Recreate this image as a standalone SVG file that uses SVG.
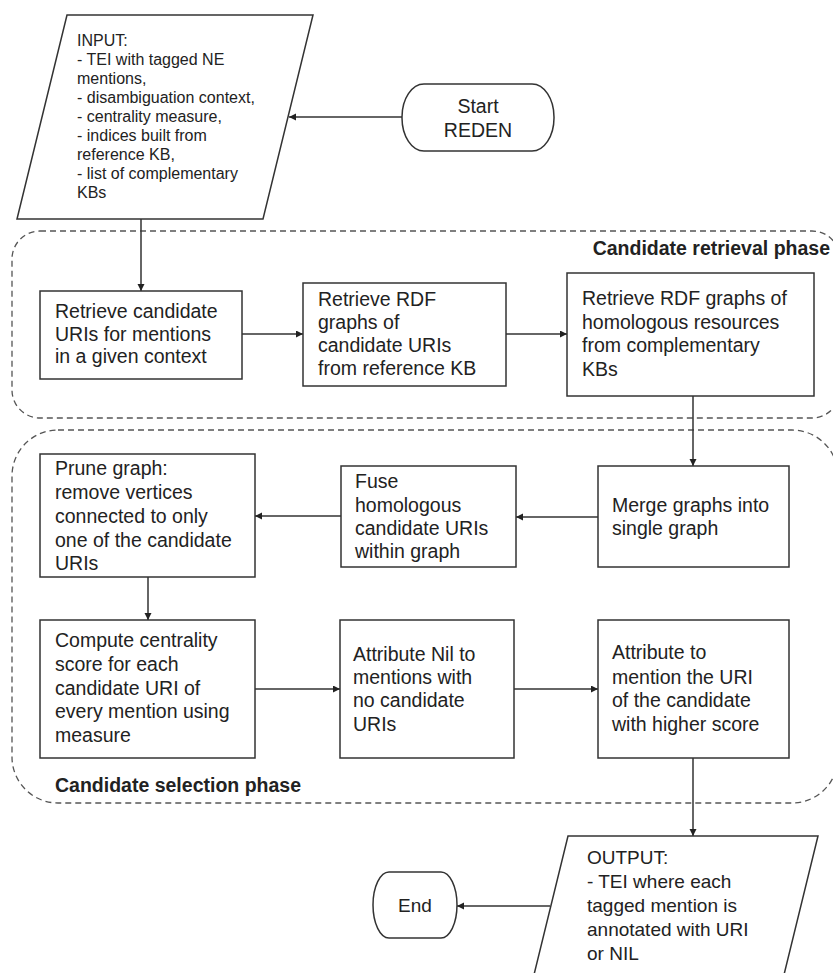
<svg xmlns="http://www.w3.org/2000/svg" width="833" height="973" viewBox="0 0 833 973">
<style>
.box{fill:#fff;stroke:#333;stroke-width:1.5}
.grp{fill:none;stroke:#555;stroke-width:1.3;stroke-dasharray:6 4}
.t{font-family:"Liberation Sans",Arial,sans-serif;font-size:19.5px;fill:#222}
.ts{font-family:"Liberation Sans",Arial,sans-serif;font-size:16px;fill:#222}
.tb{font-family:"Liberation Sans",Arial,sans-serif;font-size:19.5px;font-weight:bold;fill:#222}
.c{text-anchor:middle}
.e{fill:none;stroke:#333;stroke-width:1.5;marker-end:url(#ah)}
</style>
<defs>
<marker id="ah" markerWidth="8" markerHeight="8" refX="7" refY="3.5" orient="auto" markerUnits="userSpaceOnUse">
<path d="M0,0 L7,3.5 L0,7 Z" fill="#222"/>
</marker>
</defs>

<g id="phases">
<rect class="grp" x="12" y="231" width="828" height="187" rx="28" ry="28"/>
<text class="tb" x="830" y="255" text-anchor="end">Candidate retrieval phase</text>
<rect class="grp" x="12" y="430" width="826" height="373" rx="46" ry="46"/>
<text class="tb" x="55" y="792">Candidate selection phase</text>
</g>

<g id="connectors">
<line class="e" x1="402" y1="117" x2="289" y2="117"/>
<line class="e" x1="141" y1="219" x2="141" y2="291"/>
<line class="e" x1="242" y1="334" x2="303" y2="334"/>
<line class="e" x1="506" y1="334" x2="567" y2="334"/>
<line class="e" x1="693" y1="396" x2="693" y2="466"/>
<line class="e" x1="598" y1="517" x2="516" y2="517"/>
<line class="e" x1="341" y1="516" x2="255" y2="516"/>
<line class="e" x1="148" y1="577" x2="148" y2="620"/>
<line class="e" x1="255" y1="689" x2="340" y2="689"/>
<line class="e" x1="514" y1="689" x2="598" y2="689"/>
<line class="e" x1="693" y1="758" x2="693" y2="836"/>
<line class="e" x1="550" y1="906" x2="457" y2="906"/>
</g>

<g id="input">
<polygon class="box" points="67,15 313,15 263,219 17,219"/>
<text class="ts" x="77" y="46">INPUT:</text>
<text class="ts" x="77" y="65">- TEI with tagged NE</text>
<text class="ts" x="77" y="84">mentions,</text>
<text class="ts" x="77" y="103">- disambiguation context,</text>
<text class="ts" x="77" y="122">- centrality measure,</text>
<text class="ts" x="77" y="141">- indices built from</text>
<text class="ts" x="77" y="160">reference KB,</text>
<text class="ts" x="77" y="179">- list of complementary</text>
<text class="ts" x="77" y="198">KBs</text>
</g>

<g id="start">
<rect class="box" x="402" y="84" width="152" height="67" rx="22" ry="33"/>
<text class="t c" x="478" y="113">Start</text>
<text class="t c" x="478" y="137">REDEN</text>
</g>

<g id="retrieve-candidates">
<rect class="box" x="40" y="291" width="202" height="88"/>
<text class="t" x="55" y="318">Retrieve candidate</text>
<text class="t" x="55" y="341">URIs for mentions</text>
<text class="t" x="55" y="363">in a given context</text>
</g>

<g id="retrieve-rdf">
<rect class="box" x="303" y="283" width="203" height="103"/>
<text class="t" x="318" y="306">Retrieve RDF</text>
<text class="t" x="318" y="329">graphs of</text>
<text class="t" x="318" y="352">candidate URIs</text>
<text class="t" x="318" y="375">from reference KB</text>
</g>

<g id="retrieve-homologous">
<rect class="box" x="567" y="273" width="247" height="123"/>
<text class="t" x="582" y="305">Retrieve RDF graphs of</text>
<text class="t" x="582" y="329">homologous resources</text>
<text class="t" x="582" y="352">from complementary</text>
<text class="t" x="582" y="376">KBs</text>
</g>

<g id="merge">
<rect class="box" x="598" y="466" width="191" height="101"/>
<text class="t" x="612" y="512">Merge graphs into</text>
<text class="t" x="612" y="535">single graph</text>
</g>

<g id="fuse">
<rect class="box" x="341" y="466" width="175" height="101"/>
<text class="t" x="355" y="488">Fuse</text>
<text class="t" x="355" y="512">homologous</text>
<text class="t" x="355" y="535">candidate URIs</text>
<text class="t" x="355" y="558">within graph</text>
</g>

<g id="prune">
<rect class="box" x="40" y="454" width="215" height="123"/>
<text class="t" x="55" y="475">Prune graph:</text>
<text class="t" x="55" y="499">remove vertices</text>
<text class="t" x="55" y="523">connected to only</text>
<text class="t" x="55" y="547">one of the candidate</text>
<text class="t" x="55" y="570">URIs</text>
</g>

<g id="compute">
<rect class="box" x="40" y="620" width="215" height="138"/>
<text class="t" x="55" y="647">Compute centrality</text>
<text class="t" x="55" y="671">score for each</text>
<text class="t" x="55" y="695">candidate URI of</text>
<text class="t" x="55" y="718">every mention using</text>
<text class="t" x="55" y="742">measure</text>
</g>

<g id="attribute-nil">
<rect class="box" x="340" y="620" width="174" height="138"/>
<text class="t" x="353" y="661">Attribute Nil to</text>
<text class="t" x="353" y="684">mentions with</text>
<text class="t" x="353" y="707">no candidate</text>
<text class="t" x="353" y="731">URIs</text>
</g>

<g id="attribute-uri">
<rect class="box" x="598" y="620" width="191" height="138"/>
<text class="t" x="612" y="659">Attribute to</text>
<text class="t" x="612" y="684">mention the URI</text>
<text class="t" x="612" y="707">of the candidate</text>
<text class="t" x="612" y="731">with higher score</text>
</g>

<g id="output">
<polygon class="box" points="568,836 818,836 768,1040 518,1040"/>
<text class="t" x="587" y="864" style="font-size:19px">OUTPUT:</text>
<text class="t" x="587" y="888" style="font-size:19px">- TEI where each</text>
<text class="t" x="587" y="912" style="font-size:19px">tagged mention is</text>
<text class="t" x="587" y="936" style="font-size:19px">annotated with URI</text>
<text class="t" x="587" y="960" style="font-size:19px">or NIL</text>
</g>

<g id="end">
<rect class="box" x="373" y="872" width="84" height="66" rx="16" ry="33"/>
<text class="t c" x="415" y="912" style="font-size:19px">End</text>
</g>
</svg>
